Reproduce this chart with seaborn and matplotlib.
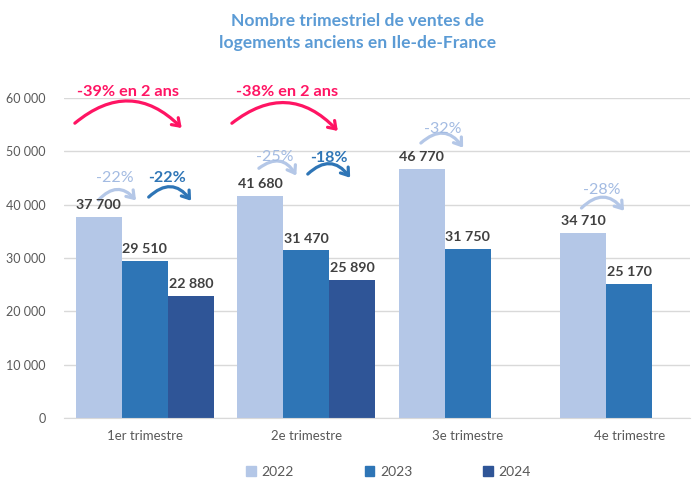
import matplotlib
matplotlib.use('Agg')
import matplotlib.pyplot as plt
import seaborn as sns
import pandas as pd
from matplotlib.patches import FancyArrowPatch
from matplotlib.ticker import FuncFormatter

# data
quarters = ['1er trimestre', '2e trimestre', '3e trimestre', '4e trimestre']
ventes_2022 = [37700, 41680, 46770, 34710]
ventes_2023 = [29510, 31470, 31750, 25170]
ventes_2024 = [22880, 25890, None, None]
years = ['2022', '2023', '2024']
colors = ['#B4C7E7', '#2E75B6', '#2F5597']
red = '#FF1463'

# evolution labels (2023 vs 2022, 2024 vs 2023, 2024 vs 2022)
evol_23 = ['-22%', '-25%', '-32%', '-28%']
evol_24 = ['-22%', '-18%', None, None]
evol_2ans = ['-39% en 2 ans', '-38% en 2 ans', None, None]

# annotation placement (offset from category centre, y in data units)
# (x0, x1, y0, y1, text_x, text_y)
arcs_23 = [(-0.297, -0.043, 40500, 40400, -0.186, 45000),
           (-0.307, -0.053, 46500, 45000, -0.195, 48900),
           (-0.303, -0.019, 51200, 50250, -0.155, 54200),
           (-0.308, -0.022, 39000, 38440, -0.170, 42750)]
arcs_24 = [(0.012, 0.297, 41060, 40310, 0.136, 45000),
           (-0.003, 0.282, 45375, 44625, 0.139, 48750)]
arcs_2ans = [(-0.446, 0.241, 54940, 54000, -0.105, 61125),
             (-0.474, 0.207, 54940, 53440, -0.121, 61125)]

sns.set_style("white")
plt.rcParams['font.family'] = ['Lato', 'DejaVu Sans']

rows = []
for y, vals in zip(years, [ventes_2022, ventes_2023, ventes_2024]):
    for q, v in zip(quarters, vals):
        rows.append({'trimestre': q, 'annee': y, 'ventes': v})
df = pd.DataFrame(rows)

fig = plt.figure(figsize=(7, 4.79), dpi=100)
ax = fig.add_axes([64 / 700, 61 / 479, 626 / 700, 320 / 479])

sns.barplot(data=df, x='trimestre', y='ventes', hue='annee', palette=colors,
            width=0.857, gap=0, saturation=1, linewidth=0, ax=ax, legend=False)

ax.set_ylim(0, 60000)
ax.set_xlim(-0.5, 3.376)
ax.set_yticks(range(0, 60001, 10000))
ax.yaxis.set_major_formatter(FuncFormatter(lambda v, p: f'{int(v):,}'.replace(',', ' ')))
ax.grid(axis='y', color='#D9D9D9', linewidth=1)
ax.set_axisbelow(True)
for s in ['top', 'right', 'left']:
    ax.spines[s].set_visible(False)
ax.spines['bottom'].set_color('#D9D9D9')
ax.tick_params(axis='both', length=0, colors='#595959')
ax.tick_params(axis='y', pad=13, labelsize=9)
ax.tick_params(axis='x', pad=9, labelsize=9.5)
ax.set_xlabel('')
ax.set_ylabel('')

# value labels
for cont in ax.containers:
    labels = []
    for b in cont:
        h = b.get_height()
        labels.append('' if pd.isna(h) or h == 0 else f'{int(h):,}'.replace(',', ' '))
    ax.bar_label(cont, labels=labels, padding=4, fontsize=10.3, fontweight='bold', color='#404040')


def arc(i, spec, color, text, bold, size=11.5, rad=-0.6):
    x0, x1, y0, y1, tx, ty = spec
    a = FancyArrowPatch((i + x0, y0), (i + x1, y1), connectionstyle=f'arc3,rad={rad}',
                        arrowstyle='->,head_length=5,head_width=3.5', color=color,
                        lw=2.3, clip_on=False, mutation_scale=1)
    ax.add_patch(a)
    tcolor = '#A3BBE2' if color == colors[0] else color
    ax.text(i + tx, ty, text, ha='center', va='center', fontsize=size,
            fontweight='bold' if bold else 'normal', color=tcolor, clip_on=False)


for i, spec in enumerate(arcs_23):
    arc(i, spec, colors[0], evol_23[i], False)
for i, spec in enumerate(arcs_24):
    arc(i, spec, colors[1], evol_24[i], True)
for i, spec in enumerate(arcs_2ans):
    arc(i, spec, red, evol_2ans[i], True, size=11.7, rad=-0.47)

fig.text(0.511, 0.956, 'Nombre trimestriel de ventes de', ha='center', va='center',
         fontsize=12.6, fontweight='bold', color='#5B9BD5')
fig.text(0.511, 0.910, 'logements anciens en Ile-de-France', ha='center', va='center',
         fontsize=12.6, fontweight='bold', color='#5B9BD5')

handles = [plt.Rectangle((0, 0), 1, 1, color=c) for c in colors]
fig.legend(handles, years, loc='center', bbox_to_anchor=(0.555, 0.015), ncol=3,
           frameon=False, handlelength=0.7, handleheight=0.7, columnspacing=5.1,
           handletextpad=0.4, fontsize=10, labelcolor='#595959')

fig.savefig('out.png', dpi=100)
